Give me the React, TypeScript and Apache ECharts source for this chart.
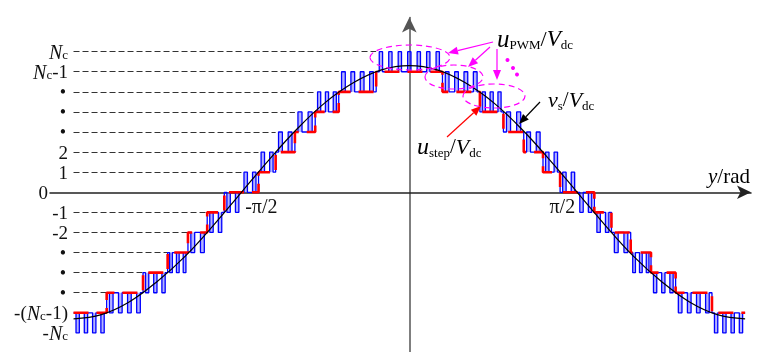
import React, { useEffect, useRef } from "react";
import * as echarts from "echarts";

// Switching interval edges along y (rad)
const stepEdges = [
  -3.14, -2.83, -2.49, -2.26, -2.07, -1.89, -1.73, -1.57, -1.41, -1.25, -1.07, -0.88, -0.66, -0.31,
  0.31, 0.66, 0.88, 1.07, 1.25, 1.41, 1.57, 1.73, 1.89, 2.07, 2.26, 2.49, 2.83, 3.14,
];
// u_step level held over each interval
const stepLevels = [-6, -5, -4, -3, -2, -1, 0, 0, 1, 2, 3, 4, 5, 6, 5, 4, 3, 2, 1, 0, 0, -1, -2, -3, -4, -5, -6];
// neighbouring level the PWM output toggles to in each interval
const pwmLevels = [-7, -6, -5, -4, -3, -2, -1, 1, 2, 3, 4, 5, 6, 7, 6, 5, 4, 3, 2, 1, -1, -2, -3, -4, -5, -6, -7];
// pulses per interval
const pwmPulses = [4, 4, 3, 3, 2, 2, 2, 2, 2, 2, 2, 3, 4, 7, 4, 3, 2, 2, 2, 2, 2, 2, 2, 3, 3, 4, 4];
// share of each carrier period spent at the neighbouring level
const pwmDuty = [0.4, 0.4, 0.4, 0.4, 0.4, 0.4, 0.4, 0.4, 0.4, 0.4, 0.4, 0.4, 0.4, 0.35,
  0.4, 0.4, 0.4, 0.4, 0.4, 0.4, 0.4, 0.4, 0.4, 0.4, 0.4, 0.4, 0.4];

// reference voltage v_s/V_dc
const curveX = [-3.14, -2.88, -2.62, -2.36, -2.09, -1.83, -1.57, -1.31, -1.05, -0.79, -0.52, -0.26, 0,
  0.26, 0.52, 0.79, 1.05, 1.31, 1.57, 1.83, 2.09, 2.36, 2.62, 2.88, 3.14];
const curveY = [-6.3, -6.09, -5.46, -4.45, -3.15, -1.63, 0, 1.63, 3.15, 4.45, 5.46, 6.09, 6.3,
  6.09, 5.46, 4.45, 3.15, 1.63, 0, -1.63, -3.15, -4.45, -5.46, -6.09, -6.3];

// level tick labels
const levelTicks = [7, 6, 5, 4, 3, 2, 1, 0, -1, -2, -3, -4, -5, -6, -7];
const levelLabels = [
  "{i|N}{s|c}", "{i|N}{s|c}{n|-1}", "{d|•}", "{d|•}", "{d|•}", "{n|2}", "{n|1}", "{z|0}",
  "{n|-1}", "{n|-2}", "{d|•}", "{d|•}", "{d|•}", "{n|-(}{i|N}{s|c}{n|-1)}", "{n|-}{i|N}{s|c}",
];
const angleTicks = [-1.571, 1.571];
const angleLabels = ["-π/2", "π/2"];

const SERIF = "'Liberation Serif', 'Times New Roman', serif";
const INK = "#111";
const MAG = "#ff00ff";

function arrow(x1: number, y1: number, x2: number, y2: number, color: string, len = 10, half = 4) {
  const a = Math.atan2(y2 - y1, x2 - x1);
  const bx = x2 - len * Math.cos(a);
  const by = y2 - len * Math.sin(a);
  const nx = -Math.sin(a) * half;
  const ny = Math.cos(a) * half;
  return [
    { type: "line", shape: { x1, y1, x2: bx, y2: by }, style: { stroke: color, lineWidth: 1.2 }, z: 100 },
    { type: "polygon", shape: { points: [[x2, y2], [bx + nx, by + ny], [bx - nx, by - ny]] }, style: { fill: color }, z: 100 },
  ];
}

export default function App() {
  const ref = useRef<HTMLDivElement>(null);

  useEffect(() => {
    if (!ref.current) return;
    const chart = echarts.init(ref.current, null, { renderer: "svg" });

    const bluePts: number[][] = [];
    const redPts: number[][] = [];
    const pulses: number[][] = [];
    for (let i = 0; i < stepLevels.length; i++) {
      const a = stepEdges[i];
      const b = stepEdges[i + 1];
      const lo = stepLevels[i];
      const hi = pwmLevels[i];
      const n = pwmPulses[i];
      const p = (b - a) / n;
      const h = (pwmDuty[i] * p) / 2;
      redPts.push([a, lo], [b, lo]);
      bluePts.push([a, lo]);
      for (let j = 0; j < n; j++) {
        const c = a + (j + 0.5) * p;
        bluePts.push([c - h, lo], [c - h, hi], [c + h, hi], [c + h, lo]);
        pulses.push([c - h, c + h, lo, hi]);
      }
      bluePts.push([b, lo]);
    }

    // dashed guides run from the left end to where the trace first reaches each level
    const guides: any[] = [];
    levelTicks.forEach((k) => {
      if (k === 0) return;
      const idx = stepLevels.findIndex((s, i) => Math.max(s, pwmLevels[i]) === k);
      if (idx <= 0) return;
      guides.push({ coords: [[stepEdges[0], k], [stepEdges[idx], k]] });
    });

    const rich = {
      n: { fontFamily: SERIF, fontSize: 19, color: INK, lineHeight: 18 },
      z: { fontFamily: SERIF, fontSize: 19, color: INK, lineHeight: 18, padding: [0, 20, 0, 0] },
      i: { fontFamily: SERIF, fontSize: 20, fontStyle: "italic", color: INK, lineHeight: 18 },
      s: { fontFamily: SERIF, fontSize: 13, color: INK, lineHeight: 11, verticalAlign: "bottom" },
      d: { fontFamily: SERIF, fontSize: 18, color: INK, lineHeight: 18, padding: [0, 2, 0, 0] },
    };

    const txt = (x: number, y: number, text: string, r: any) => ({
      type: "text",
      x,
      y,
      z: 100,
      style: { text, rich: r, verticalAlign: "middle", align: "left" },
    });

    const sub = (color: string) => ({ fontFamily: SERIF, fontSize: 13, color, lineHeight: 13, verticalAlign: "bottom" });
    const big = (color: string, size: number, italic: boolean) => ({
      fontFamily: SERIF, fontSize: size, color, lineHeight: 26, fontStyle: italic ? "italic" : "normal",
    });

    chart.setOption({
      animation: false,
      grid: { left: 50, right: 8, top: 17.5, bottom: 0 },
      xAxis: {
        type: "value",
        min: -3.36,
        max: 3.195,
        axisLine: { show: true, onZero: true, symbol: ["none", "arrow"], symbolSize: [10, 14], lineStyle: { color: "#222", width: 1.5 } },
        axisTick: { show: false },
        axisLabel: { show: false },
        splitLine: { show: false },
      },
      yAxis: [
        {
          type: "value",
          min: -7.95,
          max: 8.7,
          axisLine: { show: true, onZero: true, symbol: ["none", "arrow"], symbolSize: [11, 15], lineStyle: { color: "#555", width: 1.5 } },
          axisTick: { show: false },
          axisLabel: { show: false },
          splitLine: { show: false },
        },
        {
          type: "value",
          min: -7.95,
          max: 8.7,
          position: "left",
          offset: -26,
          axisLine: { show: false, onZero: false },
          axisTick: { show: false },
          splitLine: { show: false },
          axisLabel: {
            show: true,
            margin: 8,
            showMinLabel: true,
            showMaxLabel: true,
            hideOverlap: false,
            customValues: levelTicks,
            formatter: (v: number) => levelLabels[levelTicks.indexOf(v)] ?? "",
            rich,
          },
        },
      ],
      series: [
        {
          type: "lines",
          coordinateSystem: "cartesian2d",
          polyline: false,
          silent: true,
          lineStyle: { color: "#333", width: 1, type: [6, 3], opacity: 1 },
          data: guides,
          z: 1,
        },
        {
          // light body of each PWM pulse
          type: "custom",
          silent: true,
          z: 2,
          data: pulses,
          renderItem: (params: any, api: any) => {
            const p0 = api.coord([api.value(0), api.value(2)]);
            const p1 = api.coord([api.value(1), api.value(3)]);
            return {
              type: "rect",
              shape: {
                x: Math.min(p0[0], p1[0]),
                y: Math.min(p0[1], p1[1]),
                width: Math.abs(p1[0] - p0[0]),
                height: Math.abs(p1[1] - p0[1]),
              },
              style: { fill: "rgba(90,90,255,0.45)" },
            };
          },
        },
        {
          name: "u_PWM",
          type: "line",
          data: bluePts,
          showSymbol: false,
          symbol: "none",
          lineStyle: { color: "#0000ff", width: 1.3 },
          z: 3,
        },
        {
          name: "u_step",
          type: "line",
          data: redPts,
          showSymbol: false,
          symbol: "none",
          lineStyle: { color: "#ff0000", width: 2.6, type: [15, 8] },
          z: 4,
        },
        {
          name: "v_s",
          type: "line",
          data: curveX.map((x, i) => [x, curveY[i]]),
          smooth: 0.4,
          showSymbol: false,
          symbol: "none",
          lineStyle: { color: "#000", width: 1.2 },
          z: 5,
        },
      ],
    });

    // ±π/2 marks, placed through the axis scale
    const marks = angleTicks.map((v, i) => {
      const [px, py] = chart.convertToPixel({ xAxisIndex: 0, yAxisIndex: 0 }, [v, 0]) as number[];
      return {
        type: "text",
        x: px + (i === 0 ? 20 : -15),
        y: py + 14,
        z: 100,
        style: {
          text: angleLabels[i],
          fontFamily: SERIF,
          fontSize: 20,
          fill: INK,
          align: "center",
          verticalAlign: "middle",
        },
      };
    });

    chart.setOption({
      graphic: [
        { type: "ellipse", shape: { cx: 410, cy: 57.5, rx: 40, ry: 12.5 }, style: { fill: "none", stroke: MAG, lineWidth: 1.2, lineDash: [6, 4] }, z: 100 },
        { type: "ellipse", shape: { cx: 454, cy: 77, rx: 29, ry: 12 }, style: { fill: "none", stroke: MAG, lineWidth: 1.2, lineDash: [6, 4] }, z: 100 },
        { type: "ellipse", shape: { cx: 494, cy: 96, rx: 31, ry: 12 }, style: { fill: "none", stroke: MAG, lineWidth: 1.2, lineDash: [6, 4] }, z: 100 },
        ...arrow(493, 42, 448, 53, MAG),
        ...arrow(490, 47, 468, 67, MAG),
        ...arrow(497, 49, 497, 80, MAG),
        { type: "circle", shape: { cx: 507.5, cy: 60, r: 2 }, style: { fill: MAG }, z: 100 },
        { type: "circle", shape: { cx: 513, cy: 68, r: 2 }, style: { fill: MAG }, z: 100 },
        { type: "circle", shape: { cx: 517, cy: 74.5, r: 2 }, style: { fill: MAG }, z: 100 },
        ...arrow(447, 137, 481, 106, "#ff0000"),
        ...arrow(540, 102, 519, 124, "#000"),
        txt(497, 38, "{u|u}{p|PWM}{sl|/}{v|V}{dc|dc}", {
          u: big(MAG, 25, true), p: sub(MAG), sl: big(INK, 22, false), v: big(INK, 23, true), dc: sub(INK),
        }),
        txt(548, 99, "{u|v}{p|s}{sl|/}{v|V}{dc|dc}", {
          u: big(INK, 22, true), p: sub(INK), sl: big(INK, 21, false), v: big(INK, 22, true), dc: sub(INK),
        }),
        txt(417, 146, "{u|u}{p|step}{sl|/}{v|V}{dc|dc}", {
          u: big("#ff0000", 24, true), p: sub("#ff0000"), sl: big(INK, 21, false), v: big(INK, 22, true), dc: sub(INK),
        }),
        txt(708, 176, "{y|y}{r|/rad}", {
          y: big(INK, 21, true), r: big(INK, 21, false),
        }),
        ...marks,
      ],
    });

    return () => chart.dispose();
  }, []);

  return <div ref={ref} style={{ position: "fixed", left: 0, top: 0, width: 759, height: 352 }} />;
}
